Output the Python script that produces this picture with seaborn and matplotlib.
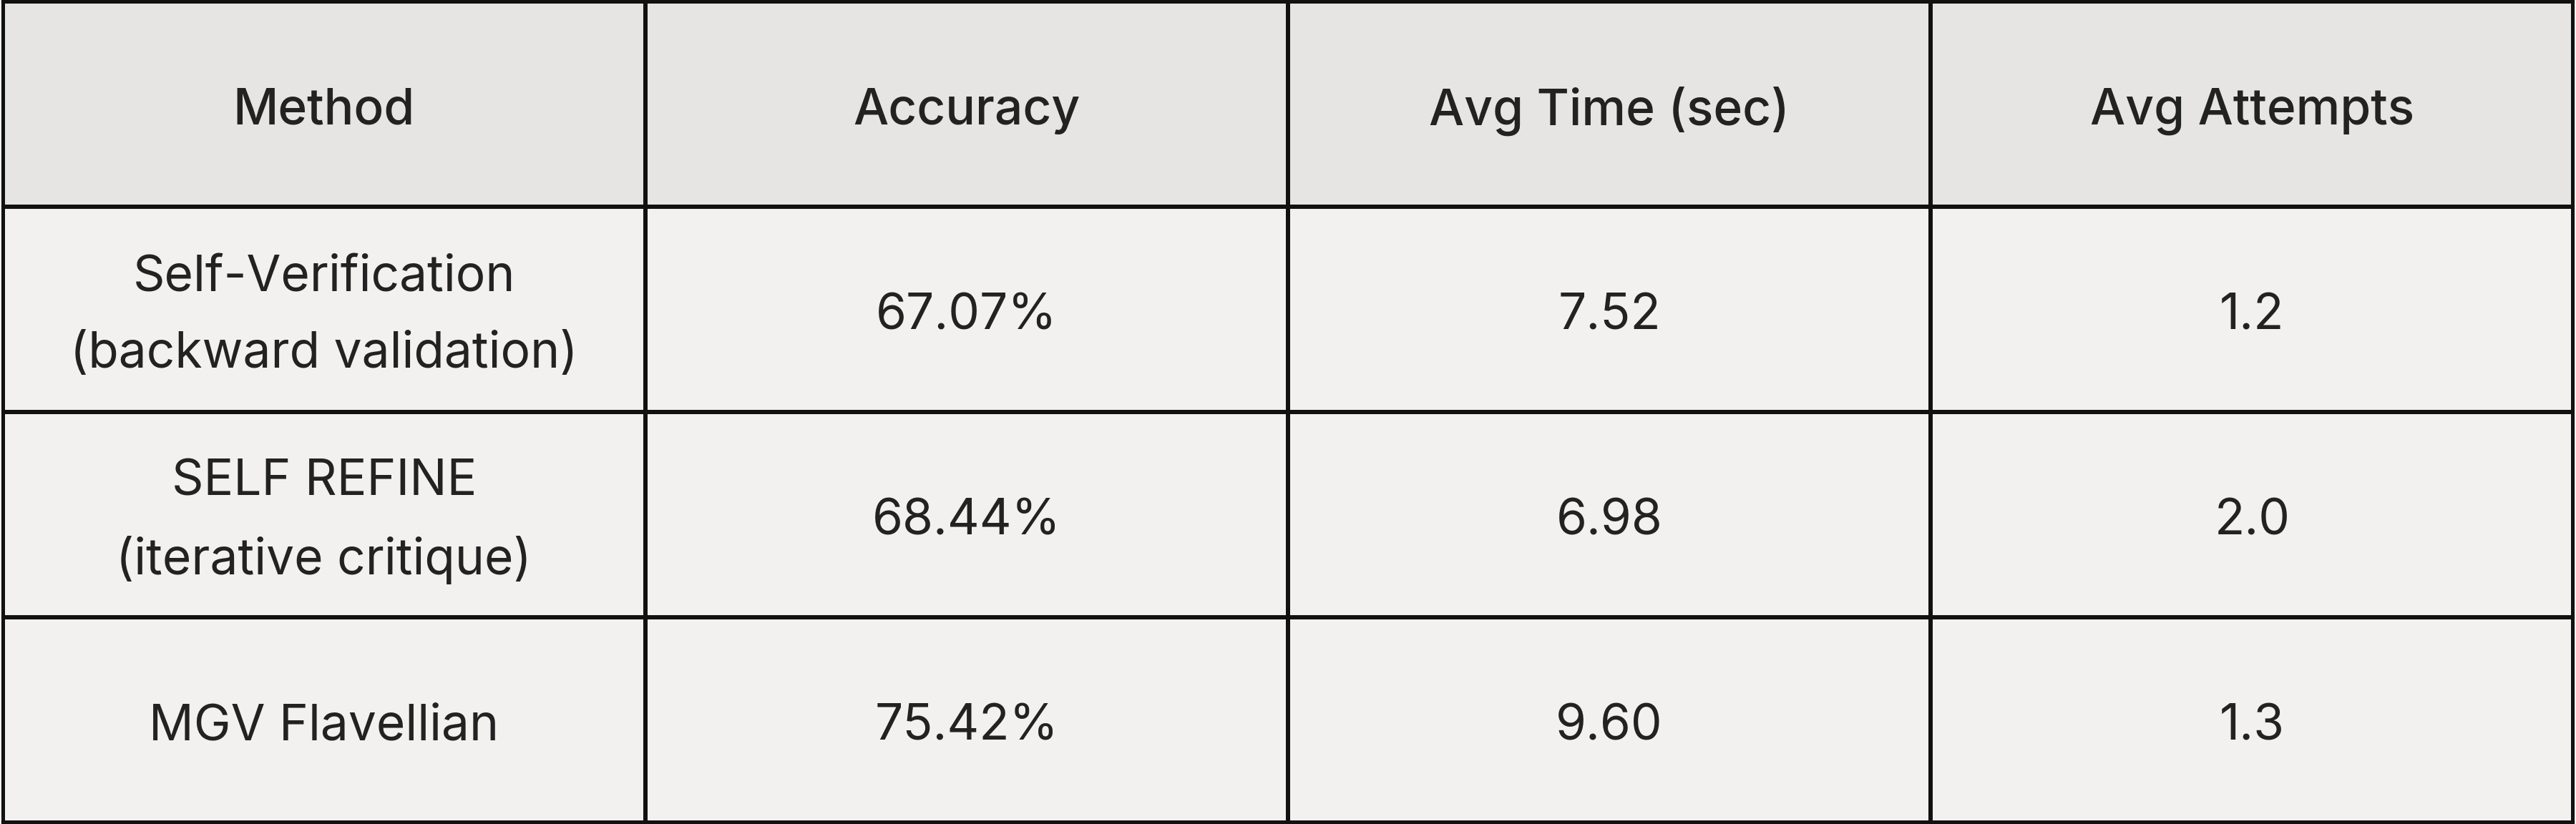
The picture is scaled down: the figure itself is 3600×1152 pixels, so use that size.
import numpy as np
import matplotlib
matplotlib.use("Agg")
import matplotlib.pyplot as plt
import matplotlib.transforms as mtransforms
from matplotlib.colors import ListedColormap
import seaborn as sns

columns = ["Method", "Accuracy", "Avg Time (sec)", "Avg Attempts"]
methods = ["Self-Verification\n(backward validation)", "SELF REFINE\n(iterative critique)", "MGV Flavellian"]
accuracy = ["67.07%", "68.44%", "75.42%"]
avg_time = ["7.52", "6.98", "9.60"]
avg_attempts = ["1.2", "2.0", "1.3"]

labels = [columns] + [[m, a, t, n] for m, a, t, n in zip(methods, accuracy, avg_time, avg_attempts)]
shade = np.array([[0] * 4] + [[1] * 4] * 3)

sns.set_theme(style="white")
plt.rcParams["font.family"] = ["Inter", "DejaVu Sans"]

fig, ax = plt.subplots(figsize=(36, 11.52), dpi=100)
fig.subplots_adjust(left=0.001, right=0.999, bottom=0.002, top=0.998)
sns.heatmap(shade, ax=ax, cmap=ListedColormap(["#e6e5e3", "#f2f1ef"]), cbar=False,
            annot=np.array(labels, dtype=object), fmt="", linewidths=3, linecolor="#111111",
            annot_kws={"fontsize": 50, "color": "#222222", "linespacing": 1.8})
# nudge text down a little to sit optically centred
shift = mtransforms.offset_copy(ax.transData, fig=fig, x=0, y=-7, units="points")
for i, txt in enumerate(ax.texts):
    txt.set_transform(shift)
    if i < 4:
        txt.set_fontweight("medium")
ax.set_xticks([])
ax.set_yticks([])
for s in ax.spines.values():
    s.set_visible(True)
    s.set_linewidth(3)
    s.set_color("#111111")
fig.savefig("out.png", dpi=100)
